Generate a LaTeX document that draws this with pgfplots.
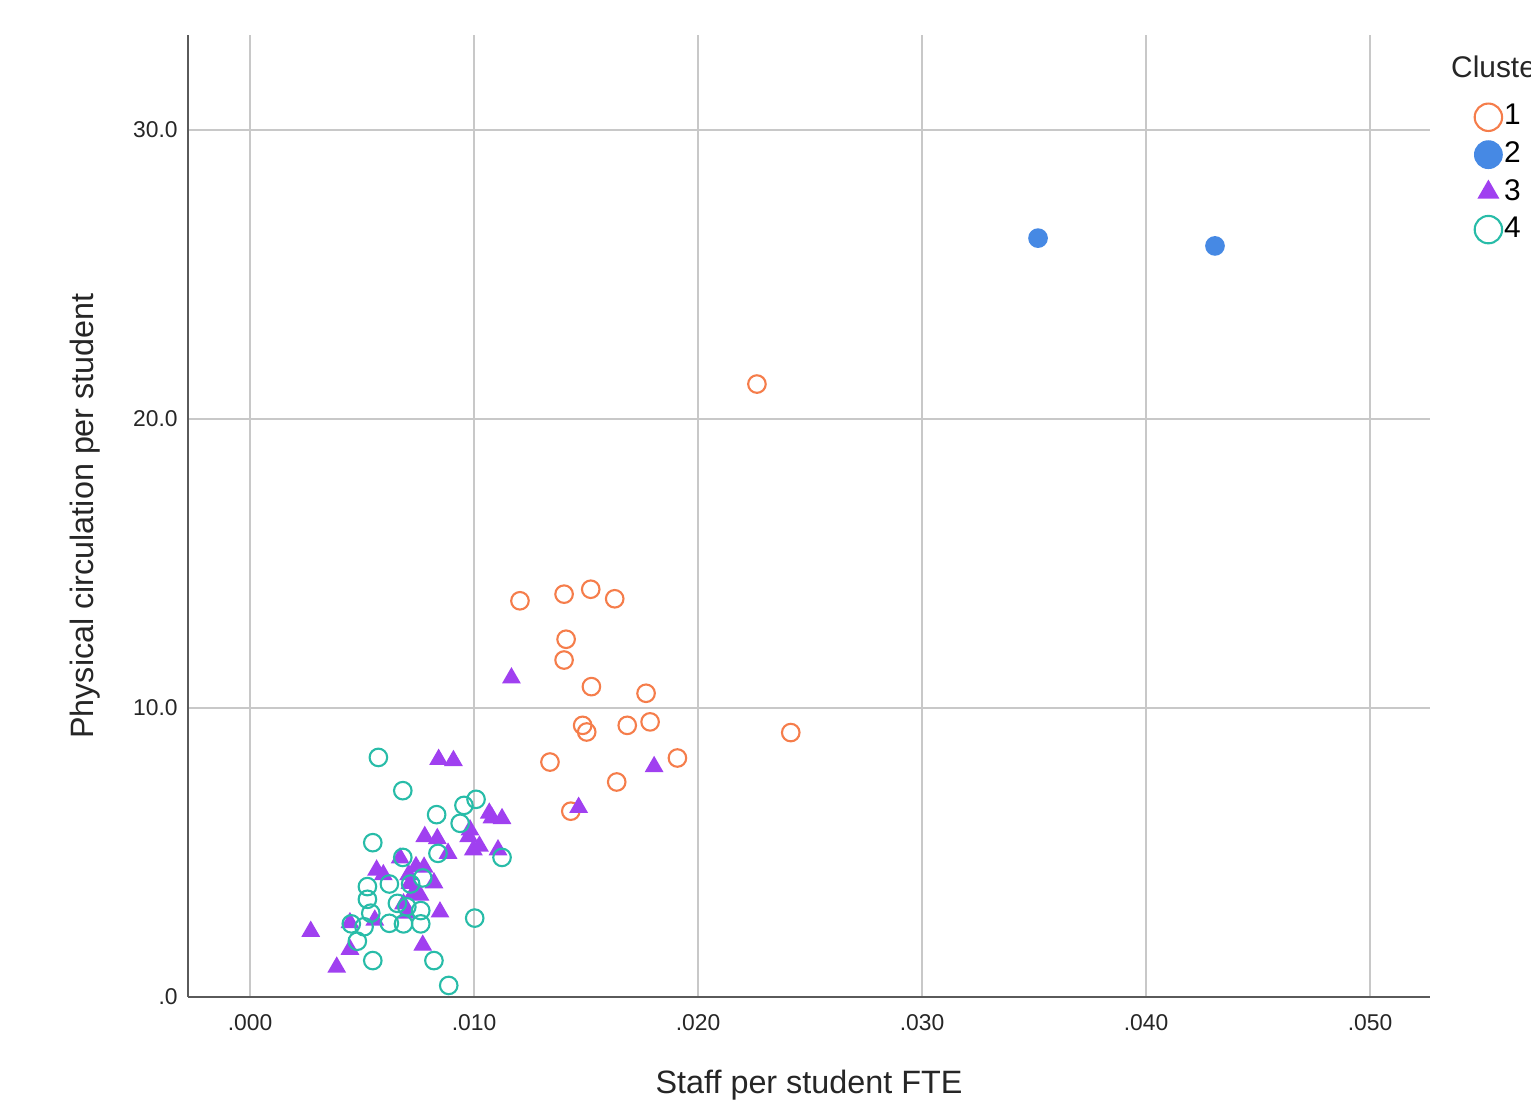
\documentclass[border=0pt]{standalone}
\usepackage{pgfplots}
\pgfplotsset{compat=1.18}
\usepackage{fontspec}
\setmainfont{Liberation Sans}
\definecolor{cOrange}{RGB}{245,125,75}
\definecolor{cBlue}{RGB}{70,137,228}
\definecolor{cPurple}{RGB}{160,64,240}
\definecolor{cTeal}{RGB}{40,188,168}
\definecolor{gridc}{RGB}{200,200,200}
\definecolor{axc}{RGB}{90,90,90}
\begin{document}
\begin{tikzpicture}
\useasboundingbox (-18.8mm,-10.4mm) rectangle (134.3mm,99.7mm);
\clip (-18.8mm,-10.4mm) rectangle (134.3mm,99.7mm);
\begin{axis}[
  at={(0,0)}, anchor=south west,
  scale only axis, width=124.2mm, height=96.2mm,
  xmin=-0.00277, xmax=0.05268, ymin=0, ymax=33.29,
  axis lines=left, axis line style={-, draw=axc, line width=0.6pt},
  major tick length=0pt,
  xtick={0,0.01,0.02,0.03,0.04,0.05},
  xticklabels={.000,.010,.020,.030,.040,.050},
  ytick={0,10,20,30},
  yticklabels={.0,10.0,20.0,30.0},
  scaled x ticks=false,
  grid=major, grid style={draw=gridc, line width=0.6pt},
  tick label style={font=\fontsize{6.5}{8}\selectfont, text=black!85},
  xticklabel style={yshift=-0.5mm},
  yticklabel style={xshift=0.2mm},
  xlabel={Staff per student FTE}, ylabel={Physical circulation per student},
  label style={font=\fontsize{9.2}{11}\selectfont, text=black!85},
  xlabel style={at={(axis description cs:0.5,-0.0915)}, anchor=center},
  ylabel style={at={(axis description cs:-0.083,0.5)}, anchor=center},
  legend style={at={(1.0354,0.933)}, anchor=north west, draw=none, fill=none,
    font=\fontsize{8.5}{10}\selectfont, row sep=0.85pt, inner sep=0pt,
    nodes={inner xsep=0.6pt, inner ysep=1.2pt}},
  legend cell align=left,
  clip=false,
]
% Cluster 1
\addplot[only marks, mark=o, mark size=2.5pt, mark options={draw=cOrange, line width=0.6pt},
  legend image post style={mark size=3.9pt, line width=0.75pt}] coordinates {
(0.01205,13.71) (0.01402,13.94) (0.01521,14.11) (0.01628,13.78)
(0.01411,12.38) (0.01402,11.66) (0.01524,10.74) (0.01768,10.51)
(0.01485,9.40) (0.01503,9.17) (0.01684,9.40) (0.01786,9.52)
(0.02414,9.15) (0.01339,8.13) (0.01908,8.27) (0.01637,7.44)
(0.01432,6.43) (0.02263,21.21)
};
\addlegendentry{1}
% Cluster 2
\addplot[only marks, mark=*, mark size=2.6pt, mark options={draw=cBlue, fill=cBlue},
  legend image post style={mark size=3.9pt}] coordinates {
(0.03518,26.26) (0.04308,25.99)
};
\addlegendentry{2}
% Cluster 3
\addplot[only marks, mark=triangle*, mark size=2.7pt, mark options={draw=cPurple, fill=cPurple},
  legend image post style={mark size=3.2pt}] coordinates {
(0.01167,11.04) (0.01804,7.97) (0.01467,6.56)
(0.00842,8.22) (0.00908,8.18) (0.01068,6.36) (0.01125,6.17) (0.01080,6.20)
(0.00982,5.78) (0.00976,5.55) (0.00780,5.55) (0.00836,5.48)
(0.00997,5.09) (0.01024,5.22) (0.01107,5.09) (0.00884,4.97)
(0.00670,4.81) (0.00565,4.39) (0.00595,4.23) (0.00741,4.51)
(0.00777,4.49) (0.00708,4.23) (0.00821,3.95) (0.00759,3.52)
(0.00729,3.59) (0.00685,3.22) (0.00700,2.90) (0.00848,2.94)
(0.00557,2.66) (0.00446,2.57) (0.00271,2.27) (0.00446,1.65)
(0.00771,1.79) (0.00387,1.03) (0.00714,3.93)
};
\addlegendentry{3}
% Cluster 4
\addplot[only marks, mark=o, mark size=2.5pt, mark options={draw=cTeal, line width=0.6pt},
  legend image post style={mark size=3.9pt, line width=0.75pt}] coordinates {
(0.00573,8.29) (0.00682,7.14) (0.00833,6.31) (0.00955,6.63)
(0.01009,6.84) (0.00938,6.01) (0.00548,5.34) (0.00839,4.97)
(0.01125,4.83) (0.00682,4.83) (0.00622,3.91) (0.00771,4.12)
(0.00717,3.91) (0.00524,3.82) (0.00524,3.38) (0.00658,3.24)
(0.00762,2.99) (0.00539,2.90) (0.00700,3.12) (0.00452,2.53)
(0.00509,2.43) (0.00622,2.55) (0.00685,2.53) (0.00762,2.53)
(0.00479,1.93) (0.01003,2.73) (0.00548,1.26) (0.00821,1.26)
(0.00887,0.40)
};
\addlegendentry{4}
\node[anchor=west, font=\fontsize{8.5}{10}\selectfont, text=black!85, inner sep=0pt] at (rel axis cs:1.0165,0.967) {Cluster};
\end{axis}
\end{tikzpicture}
\end{document}
